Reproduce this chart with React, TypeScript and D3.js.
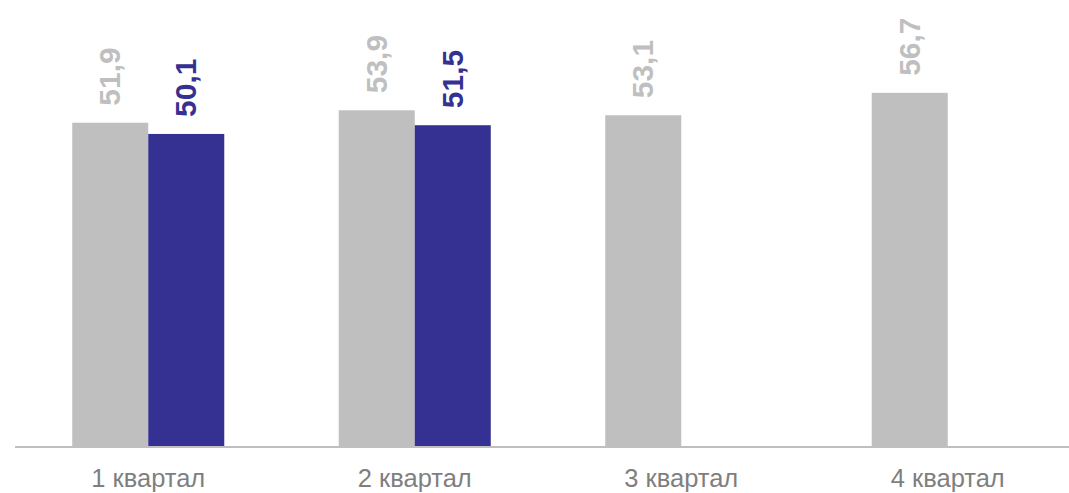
import React from "react";
import * as d3 from "d3";

const categories = ["1 квартал", "2 квартал", "3 квартал", "4 квартал"];
const seriesNames = ["prev", "curr"];
const seriesPrev: (number | null)[] = [51.9, 53.9, 53.1, 56.7];
const seriesCurr: (number | null)[] = [50.1, 51.5, null, null];
const seriesColors = ["#bfbfbf", "#353192"];

const W = 1069;
const H = 493;

export default function App() {
  const x = d3.scaleBand<string>().domain(categories).range([15, 1081]).padding(0);
  const xi = d3
    .scaleBand<string>()
    .domain(seriesNames)
    .range([0, x.bandwidth()])
    .paddingInner(0)
    .paddingOuter(0.753);
  const y = d3.scaleLinear().domain([0, 70]).range([446, 10]);
  const data = [seriesPrev, seriesCurr];
  const fmt = (v: number) => d3.format(".1f")(v).replace(".", ",");

  return (
    <svg
      width={W}
      height={H}
      style={{ position: "absolute", left: 0, top: 0, background: "#fff" }}
      fontFamily="Arimo, 'Liberation Sans', Arial, sans-serif"
    >
      {categories.map((c, ci) =>
        data.map((s, si) => {
          const v = s[ci];
          if (v == null) return null;
          const bx = (x(c) as number) + (xi(seriesNames[si]) as number);
          const bw = xi.bandwidth();
          const by = y(v);
          const cx = bx + bw / 2;
          const ly = by - 17;
          return (
            <g key={c + si}>
              <rect x={bx} y={by} width={bw} height={y(0) - by} fill={seriesColors[si]} />
              <text
                transform={`translate(${cx - 1},${ly}) rotate(-90)`}
                dy="0.36em"
                fontSize={30}
                fontWeight="bold"
                fill={seriesColors[si]}
                textAnchor="start"
              >
                {fmt(v)}
              </text>
            </g>
          );
        })
      )}
      <line x1={15} x2={W} y1={447} y2={447} stroke="#bfbfbf" strokeWidth={2} />
      {categories.map((c) => (
        <text
          key={c}
          x={(x(c) as number) + x.bandwidth() / 2}
          y={487}
          textAnchor="middle"
          fontSize={25.5}
          fill="#7f7f7f"
        >
          {c}
        </text>
      ))}
    </svg>
  );
}
